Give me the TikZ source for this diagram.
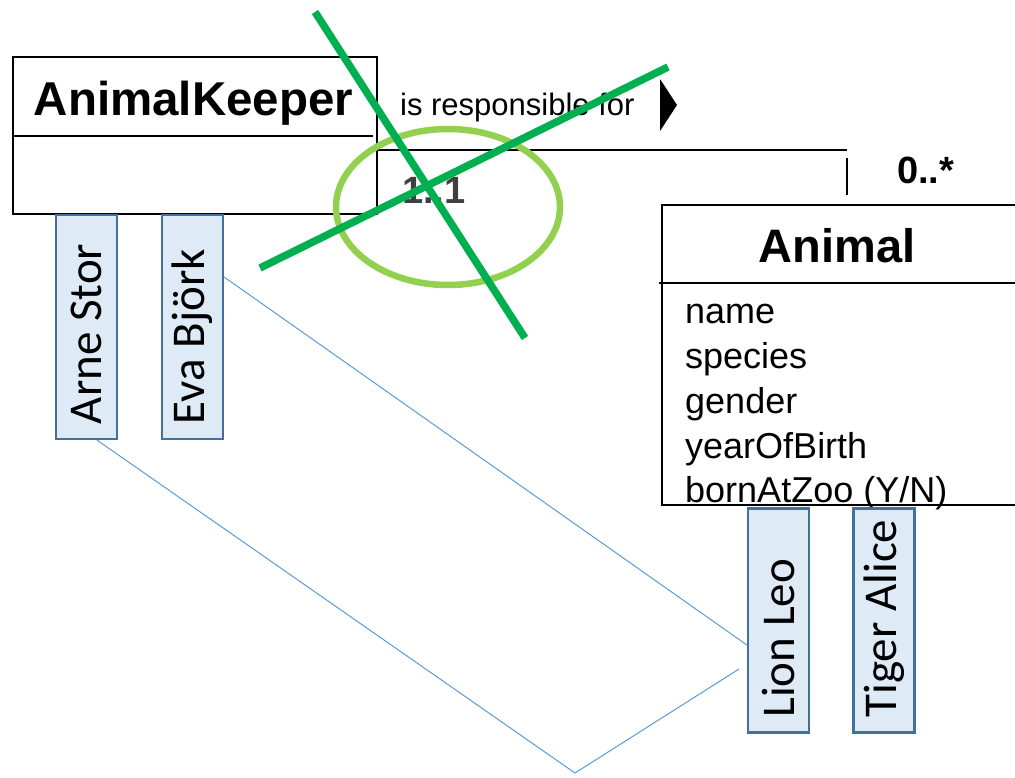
\documentclass[tikz,border=0pt]{standalone}
\usepackage{fontspec}
\setmainfont{Liberation Sans}
\newfontfamily\calibrifont{Carlito}
\usepackage{graphicx}
\usetikzlibrary{positioning}
\definecolor{crossgreen}{HTML}{00B050}
\definecolor{ringgreen}{HTML}{92D050}
\definecolor{instfill}{HTML}{DEEBF7}
\definecolor{instdraw}{HTML}{41719C}
\definecolor{linkblue}{HTML}{5B9BD5}
\definecolor{multgray}{HTML}{404040}
\newcommand{\sidewaysname}[1]{\rotatebox{90}{\makebox[194pt][l]{#1}}}

\begin{document}
\begin{tikzpicture}[x=1pt, y=-1pt,
	classbox/.style={draw=black, line width=1.6pt, inner sep=0pt},
	instance/.style={draw=instdraw, fill=instfill, line width=2.2pt, minimum width=61pt, minimum height=224pt, inner sep=0pt, font=\calibrifont\fontsize{47}{56}\selectfont},
	link/.style={draw=linkblue, line width=1pt},
	cross/.style={draw=crossgreen, line width=7.5pt},
	ring/.style={draw=ringgreen, line width=6.5pt},
	attr/.style={anchor=base west, inner sep=0pt, font=\fontsize{36}{43}\selectfont}]

		\useasboundingbox (0,0) rectangle (1015,777);

		% classes
		\node[classbox, minimum width=364pt, minimum height=157pt] (keeper) at (195,135.5) {};
		\draw[line width=1.6pt] (13,136) -- (373,136);
		\node[anchor=base, inner sep=0pt, font=\bfseries\fontsize{47.5}{56}\selectfont] (keepername) at (193.5,115) {AnimalKeeper};

		\node[classbox, minimum width=363pt, minimum height=300pt] (animal) at (843.5,355) {};
		\draw[line width=1.6pt] (659,283) -- (1020,283);
		\node[anchor=base, inner sep=0pt, font=\bfseries\fontsize{47}{56}\selectfont] (animalname) at (837,262) {Animal};
		\node[attr] (attrname) at (685,323) {name};
		\node[attr] (attrspecies) at (685,368) {species};
		\node[attr] (attrgender) at (685,413) {gender};
		\node[attr] (attryear) at (685,458) {yearOfBirth};
		\node[attr] (attrzoo) at (685,502) {bornAtZoo (Y/N)};

		% association
		\coordinate (assocend) at (847,150);
		\draw[line width=1.5pt] (keeper.east |- assocend) -- (assocend);
		\draw[line width=1.5pt] (847,158) -- (847,195);
		\node[anchor=base west, inner sep=0pt, font=\fontsize{31}{37}\selectfont] (role) at (400,115) {is responsible for};
		\fill (660,79) -- (677,105) -- (660,131) -- cycle;
		\node[anchor=base west, inner sep=0pt, text=multgray, font=\bfseries\fontsize{38}{45}\selectfont] (multkeeper) at (402,203) {1..1};
		\node[anchor=base west, inner sep=0pt, font=\bfseries\fontsize{38}{45}\selectfont] (multanimal) at (897,183) {0..*};

		% instances
		\node[instance] (arne) at (86.5,327) {\sidewaysname{Arne Stor}};
		\node[instance] (eva) at (192.5,327) {\sidewaysname{Eva Björk}};
		\node[instance] (lion) at (778.5,620.5) {\sidewaysname{Lion Leo}};
		\node[instance] (tiger) at (884,620.5) {\sidewaysname{Tiger Alice}};

		\coordinate (bend) at (575,773);
		\coordinate (loose) at (739,669);
		\draw[link] ([yshift=50pt]eva.east) -- ([yshift=-24.5pt]lion.west);
		\draw[link] ([xshift=10.5pt]arne.south) -- (bend) -- (loose);

		% crossed out
		\draw[ring] (448,207) ellipse [x radius=112, y radius=78];
		\draw[cross] (315,12) -- (525,338);
		\draw[cross] (260,268) -- (668,67);
	\end{tikzpicture}
\end{document}
